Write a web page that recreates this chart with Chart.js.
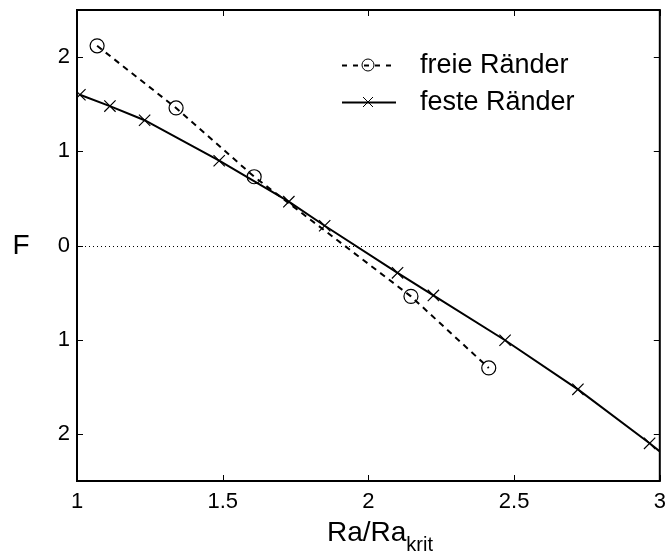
<!DOCTYPE html>
<html>
<head>
<meta charset="utf-8">
<script src="https://cdn.jsdelivr.net/npm/chart.js@4"></script>
<style>
  html, body { margin: 0; padding: 0; background: #fff; }
  #wrap { width: 669px; height: 553px; }
</style>
</head>
<body>
<div id="wrap"><canvas id="myChart" width="669" height="553"></canvas></div>
<script>
  "use strict";

  // data
  const freieX = [1.069, 1.340, 1.608, 2.146, 2.413];
  const freieY = [2.12, 1.46, 0.73, -0.54, -1.30];

  const festeX = [1.01, 1.113, 1.232, 1.488, 1.727, 1.850, 2.100, 2.223, 2.469, 2.719, 2.965, 3.05];
  const festeY = [1.60, 1.48, 1.33, 0.90, 0.465, 0.21, -0.29, -0.53, -1.006, -1.527, -2.10, -2.31];

  const xTicks = [1, 1.5, 2, 2.5, 3];
  const xTickLabels = ["1", "1.5", "2", "2.5", "3"];
  const yTicks = [-2, -1, 0, 1, 2];
  const yTickLabels = ["2", "1", "0", "1", "2"];

  const seriesNames = ["freie Ränder", "feste Ränder"];

  const FONT = "'Liberation Sans', Arial, Helvetica, sans-serif";

  const toPoints = (xs, ys) => xs.map((x, i) => ({ x: x, y: ys[i] }));

  // box, inward ticks, zero line, axis titles and legend (matlab style)
  const decor = {
    id: "decor",
    beforeDatasetsDraw(chart) {
      const { ctx, chartArea: a, scales } = chart;
      const y0 = Math.round(scales.y.getPixelForValue(0)) + 0.5;
      ctx.save();
      ctx.strokeStyle = "#000";
      ctx.lineWidth = 1;
      ctx.setLineDash([1, 3]);
      ctx.beginPath();
      ctx.moveTo(a.left, y0);
      ctx.lineTo(a.right, y0);
      ctx.stroke();
      ctx.restore();
    },
    afterDraw(chart) {
      const { ctx, chartArea: a, scales } = chart;
      ctx.save();
      ctx.strokeStyle = "#000";
      ctx.lineWidth = 1;
      ctx.beginPath();
      xTicks.forEach((v) => {
        const px = Math.round(scales.x.getPixelForValue(v)) + 0.5;
        ctx.moveTo(px, a.bottom);
        ctx.lineTo(px, a.bottom - 6);
        ctx.moveTo(px, a.top);
        ctx.lineTo(px, a.top + 6);
      });
      yTicks.forEach((v) => {
        const py = Math.round(scales.y.getPixelForValue(v)) + 0.5;
        ctx.moveTo(a.left, py);
        ctx.lineTo(a.left + 6, py);
        ctx.moveTo(a.right, py);
        ctx.lineTo(a.right - 6, py);
      });
      ctx.stroke();

      ctx.lineWidth = 2;
      ctx.strokeRect(a.left, a.top, a.right - a.left, a.bottom - a.top);

      // axis titles
      ctx.fillStyle = "#000";
      ctx.textBaseline = "alphabetic";
      ctx.textAlign = "left";
      ctx.font = "28px " + FONT;
      ctx.fillText("Ra/Ra", 327, 541);
      const w = ctx.measureText("Ra/Ra").width;
      ctx.font = "20px " + FONT;
      ctx.fillText("krit", 327 + w, 551);
      ctx.font = "28px " + FONT;
      ctx.textAlign = "center";
      ctx.textBaseline = "middle";
      ctx.fillText("F", 21, 246);

      // legend
      const rows = [65, 102];
      ctx.textAlign = "left";
      ctx.font = "27px " + FONT;
      rows.forEach((ry, i) => {
        ctx.lineWidth = 2;
        ctx.setLineDash(i === 0 ? [5, 6] : []);
        ctx.beginPath();
        ctx.moveTo(342, ry + 0.5);
        ctx.lineTo(396, ry + 0.5);
        ctx.stroke();
        ctx.setLineDash([]);
        ctx.lineWidth = 1;
        ctx.beginPath();
        if (i === 0) {
          ctx.arc(368, ry, 6, 0, Math.PI * 2);
        } else {
          ctx.moveTo(363, ry - 5);
          ctx.lineTo(373, ry + 5);
          ctx.moveTo(363, ry + 5);
          ctx.lineTo(373, ry - 5);
        }
        ctx.stroke();
        ctx.fillText(seriesNames[i], 420, ry + 1);
      });
      ctx.restore();
    },
  };

  const ctx = document.getElementById("myChart");
  // eslint-disable-next-line no-unused-vars
  const myChart = new Chart(ctx, {
    type: "line",
    data: {
      datasets: [
        {
          label: seriesNames[0],
          data: toPoints(freieX, freieY),
          borderColor: "#000",
          borderWidth: 2,
          borderDash: [6, 5],
          tension: 0,
          pointStyle: "circle",
          pointRadius: 7,
          pointBorderWidth: 1.2,
          pointBorderColor: "#000",
          pointBackgroundColor: "transparent",
          clip: 0,
        },
        {
          label: seriesNames[1],
          data: toPoints(festeX, festeY),
          borderColor: "#000",
          borderWidth: 2,
          tension: 0,
          pointStyle: "crossRot",
          pointRadius: 8,
          pointBorderWidth: 1.2,
          pointBorderColor: "#000",
          clip: 0,
        },
      ],
    },
    options: {
      responsive: false,
      animation: false,
      events: [],
      layout: { padding: { top: 10, right: 6, left: 0, bottom: 0 } },
      plugins: {
        legend: { display: false },
        tooltip: { enabled: false },
      },
      scales: {
        x: {
          type: "linear",
          min: 1,
          max: 3,
          afterFit: (s) => {
            s.height = 72;
            s.paddingLeft = 0;
            s.paddingRight = 0;
          },
          afterBuildTicks: (s) => { s.ticks = xTicks.map((v) => ({ value: v })); },
          grid: { display: false, drawTicks: false },
          border: { display: false },
          ticks: {
            padding: 8,
            color: "#000",
            font: { family: FONT, size: 22 },
            maxRotation: 0,
            callback: (v) => xTickLabels[xTicks.indexOf(v)],
          },
        },
        y: {
          type: "linear",
          min: -2.5,
          max: 2.5,
          afterFit: (s) => {
            s.width = 77;
            s.paddingTop = 0;
            s.paddingBottom = 0;
          },
          afterBuildTicks: (s) => { s.ticks = yTicks.map((v) => ({ value: v })); },
          grid: { display: false, drawTicks: false },
          border: { display: false },
          ticks: {
            padding: 7,
            color: "#000",
            font: { family: FONT, size: 22 },
            callback: (v) => yTickLabels[yTicks.indexOf(v)],
          },
        },
      },
    },
    plugins: [decor],
  });
</script>
</body>
</html>
